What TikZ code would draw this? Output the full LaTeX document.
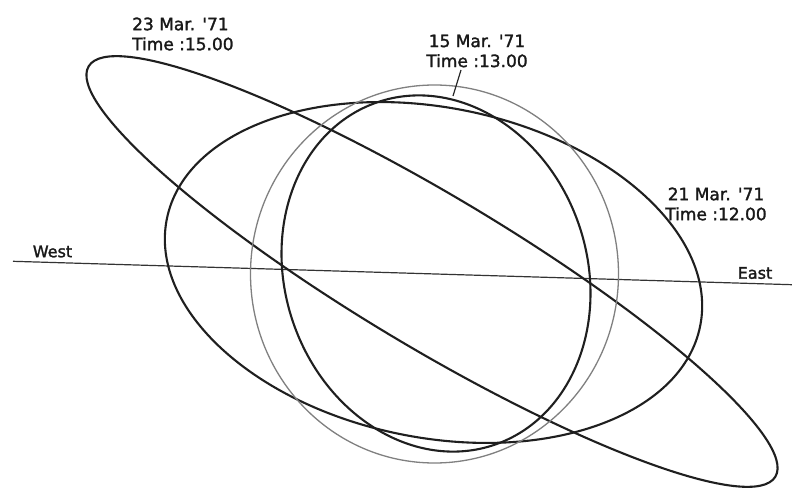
\documentclass[tikz,border=0pt]{standalone}
\usepackage{fontspec}
\setmainfont{DejaVu Sans}
\newfontfamily\lettering[FakeBold=1.6]{DejaVu Sans}
\begin{document}
\begin{tikzpicture}[x=1pt,y=1pt,
  orbit/.style={draw=black!88, line width=2.1pt},
  faint/.style={draw=black!50, line width=1.3pt},
  horizon/.style={draw=black!80, line width=1.2pt},
  lbl/.style={inner sep=0pt, font=\lettering\fontsize{17}{20}\selectfont, text=black!90},
  dirlbl/.style={inner sep=0pt, font=\lettering\fontsize{16}{18}\selectfont, text=black!90}]
\useasboundingbox (0,0) rectangle (792,488);
\fill[white] (0,0) rectangle (792,488);
% horizon line
\coordinate (hw) at (13,226.7);
\coordinate (he) at (792,203.3);
\draw[horizon] (hw) -- (he);
% orbits
\draw[orbit] (432,216.5) ellipse [x radius=400, y radius=76, rotate=-30.86];
\draw[orbit] (433.5,215.5) ellipse [x radius=272, y radius=165, rotate=-11.35];
\draw[faint] (434.5,214) ellipse [x radius=184, y radius=189];
\draw[orbit] (436,214.5) ellipse [x radius=151, y radius=181, rotate=19];
% labels
\node[lbl, align=left, anchor=west] (l23) at (132,454) {23 Mar. \textquotesingle 71\\Time :15.00};
\node[lbl, align=center] (l15) at (477,437) {15 Mar. \textquotesingle 71\\Time :13.00};
\node[lbl, align=center] (l21) at (716,284) {21 Mar. \textquotesingle 71\\Time :12.00};
\coordinate (leadtop) at (461,418);
\coordinate (leadend) at (453,392);
\draw[line width=1.2pt, black!85] (leadtop) -- (leadend);
\node[dirlbl] (west) at (52.5,236.5) {West};
\node[dirlbl] (east) at (755,215) {East};
\end{tikzpicture}
\end{document}
